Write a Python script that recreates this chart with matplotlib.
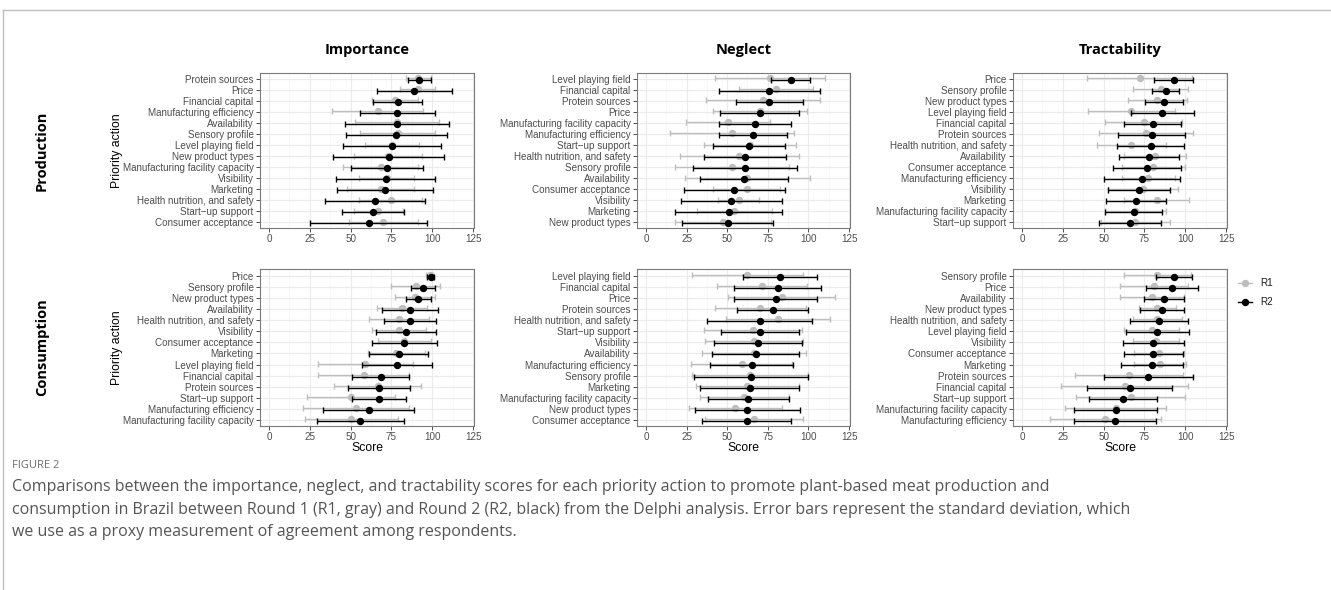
import matplotlib
matplotlib.use("Agg")
import matplotlib.pyplot as plt

# --- Data: mean score and standard deviation per priority action (listed top to bottom) ---

# Importance / Production
imp_prod_labels = ["Protein sources", "Price", "Financial capital", "Manufacturing efficiency",
                   "Availability", "Sensory profile", "Level playing field", "New product types",
                   "Manufacturing facility capacity", "Visibility", "Marketing",
                   "Health nutrition, and safety", "Start\u2212up support", "Consumer acceptance"]
imp_prod_r1_mean = [91.5, 91, 77, 66.5, 78.5, 79, 75.5, 73, 68.5, 72, 68.5, 74.5, 67, 70]
imp_prod_r1_sd = [7.5, 11, 14, 28, 25.5, 23, 16.5, 21, 23, 17, 20.5, 19.5, 15, 21]
imp_prod_r2_mean = [92, 89, 79, 78.5, 78.5, 78, 75.5, 73.5, 72.5, 71.5, 71, 65, 64, 61]
imp_prod_r2_sd = [7, 23, 15, 23, 32, 31, 30, 34, 22, 30.5, 29.5, 30.5, 19, 36]

# Neglect / Production
neg_prod_labels = ["Level playing field", "Financial capital", "Protein sources", "Price",
                   "Manufacturing facility capacity", "Manufacturing efficiency",
                   "Start\u2212up support", "Health nutrition, and safety", "Sensory profile",
                   "Availability", "Consumer acceptance", "Visibility", "Marketing",
                   "New product types"]
neg_prod_r1_mean = [76.5, 80, 72, 70, 50.5, 53, 64, 57.5, 53, 62.5, 62, 57, 54.5, 47.5]
neg_prod_r1_sd = [34, 23, 35, 29, 26, 38, 28.5, 36.5, 35, 38.5, 20.5, 12.5, 23, 29.5]
neg_prod_r2_mean = [89, 76, 76, 70, 67, 66, 63.5, 61, 61, 60.5, 54.5, 52.5, 51, 50.5]
neg_prod_r2_sd = [12, 31, 20.5, 24.5, 22, 21, 22, 25.5, 32, 27, 31, 31, 33, 28]

# Tractability / Production
tra_prod_labels = ["Price", "Sensory profile", "New product types", "Level playing field",
                   "Financial capital", "Protein sources", "Health nutrition, and safety",
                   "Availability", "Consumer acceptance", "Manufacturing efficiency",
                   "Visibility", "Marketing", "Manufacturing facility capacity",
                   "Start\u2212up support"]
tra_prod_r1_mean = [72, 85, 83, 67, 74.5, 76, 67, 81.5, 80.5, 77.5, 74, 82.5, 69.5, 69.5]
tra_prod_r1_sd = [32, 17, 18, 26.5, 23.5, 29, 21, 19, 19.5, 16, 21.5, 20, 18.5, 21]
tra_prod_r2_mean = [93, 88, 87, 86, 80, 79.5, 79, 78, 76.5, 73.5, 71.5, 70, 68.5, 66]
tra_prod_r2_sd = [12, 8.5, 11.5, 19.5, 17.5, 20.5, 20.5, 18.5, 21, 23.5, 19, 18.5, 17.5, 19]

# Importance / Consumption
imp_cons_labels = ["Price", "Sensory profile", "New product types", "Availability",
                   "Health nutrition, and safety", "Visibility", "Consumer acceptance",
                   "Marketing", "Level playing field", "Financial capital", "Protein sources",
                   "Start\u2212up support", "Manufacturing efficiency",
                   "Manufacturing facility capacity"]
imp_cons_r1_mean = [98.5, 90, 89.5, 81.5, 79.5, 79.5, 83, 78, 59, 58, 66.5, 50, 53.5, 50.5]
imp_cons_r1_sd = [2, 15, 12.5, 15.5, 18.5, 16.5, 16, 17.5, 29, 28, 26.5, 27, 32.5, 28.5]
imp_cons_r2_mean = [99, 94.5, 91.5, 86.5, 86.5, 84, 83, 79.5, 78.5, 68.5, 67.5, 67.5, 61, 56]
imp_cons_r2_sd = [2, 7.5, 7.5, 17, 16, 18.5, 20, 18, 21.5, 17.5, 19, 16.5, 28, 26.5]

# Neglect / Consumption
neg_cons_labels = ["Level playing field", "Financial capital", "Price", "Protein sources",
                   "Health nutrition, and safety", "Start\u2212up support", "Visibility",
                   "Availability", "Manufacturing efficiency", "Sensory profile", "Marketing",
                   "Manufacturing facility capacity", "New product types",
                   "Consumer acceptance"]
neg_cons_r1_mean = [62.5, 71.5, 83.5, 70.5, 81, 66, 66.5, 66.5, 59, 64, 62.5, 60.5, 55, 66.5]
neg_cons_r1_sd = [34, 27.5, 33, 28, 32, 30, 30, 32, 31, 35.5, 31.5, 27.5, 28.5, 30]
neg_cons_r2_mean = [82.5, 81, 80, 78, 70, 70, 69, 67.5, 65, 64.5, 64, 63, 62.5, 62]
neg_cons_r2_sd = [23, 26.5, 25.5, 22, 32.5, 24, 27, 27, 25.5, 35, 30.5, 25, 32.5, 27.5]

# Tractability / Consumption
tra_cons_labels = ["Sensory profile", "Price", "Availability", "New product types",
                   "Health nutrition, and safety", "Level playing field", "Visibility",
                   "Consumer acceptance", "Marketing", "Protein sources", "Financial capital",
                   "Start\u2212up support", "Manufacturing facility capacity",
                   "Manufacturing efficiency"]
tra_cons_r1_mean = [83, 81, 79.5, 83, 83, 79.5, 82, 84, 84.5, 65.5, 63, 66.5, 57.5, 51]
tra_cons_r1_sd = [20.5, 21, 19.5, 11.5, 15, 17, 14, 15.5, 16, 33, 39, 33.5, 31, 34]
tra_cons_r2_mean = [93, 92, 87, 85.5, 84, 83, 80.5, 80.5, 79.5, 77.5, 66, 62, 57.5, 57]
tra_cons_r2_sd = [11, 16, 12.5, 13.5, 18, 19.5, 18.5, 18, 19, 27.5, 26, 21, 25.5, 25]

score_ticks = [0, 25, 50, 75, 100, 125]

# --- Layout (pixel boxes of the reference) ---
W, H = 1331, 590
COLS = [(260, 474), (637, 850), (1013, 1227)]
ROWS = [(72.7, 228), (269, 425.7)]
TICK_FS = 7.1
LAB_FS = 8.8
R1_COLOR = "#BEBEBE"
R2_COLOR = "#000000"


def px_rect(x0, y0, x1, y1):
    return [x0 / W, 1 - y1 / H, (x1 - x0) / W, (y1 - y0) / H]


def draw_panel(ax, labels, r1m, r1s, r2m, r2s):
    n = len(labels)
    ypos = list(range(1, n + 1))
    # grid like ggplot theme_bw
    for v in [12.5, 37.5, 62.5, 87.5, 112.5]:
        ax.axvline(v, color="#F4F4F4", lw=0.45, zorder=0)
    for v in score_ticks:
        ax.axvline(v, color="#EBEBEB", lw=0.8, zorder=0)
    for y in ypos:
        ax.axhline(y, color="#EBEBEB", lw=0.8, zorder=0)

    ax.errorbar(r1m, [y - 0.08 for y in ypos], xerr=r1s, fmt="o", color=R1_COLOR,
                ecolor=R1_COLOR, elinewidth=1.0, capsize=2.2, capthick=1.0,
                markersize=4.3, zorder=2)
    ax.errorbar(r2m, [y + 0.08 for y in ypos], xerr=r2s, fmt="o", color=R2_COLOR,
                ecolor=R2_COLOR, elinewidth=1.0, capsize=2.2, capthick=1.0,
                markersize=4.3, zorder=3)

    ax.set_xlim(-5.5, 125.6)
    ax.set_ylim(n + 0.5, 0.4)
    ax.set_xticks(score_ticks)
    ax.set_xticklabels([str(t) for t in score_ticks])
    ax.set_yticks(ypos)
    ax.set_yticklabels(labels)
    ax.tick_params(axis="both", labelsize=TICK_FS, labelcolor="#4D4D4D", color="#333333",
                   length=2.6, width=0.6, pad=2)
    for sp in ax.spines.values():
        sp.set_color("#7A7A7A")
        sp.set_linewidth(0.8)


plt.rcParams["font.family"] = ["Liberation Sans", "DejaVu Sans"]
fig = plt.figure(figsize=(W / 100, H / 100), dpi=100)

panels = [
    [(imp_prod_labels, imp_prod_r1_mean, imp_prod_r1_sd, imp_prod_r2_mean, imp_prod_r2_sd),
     (neg_prod_labels, neg_prod_r1_mean, neg_prod_r1_sd, neg_prod_r2_mean, neg_prod_r2_sd),
     (tra_prod_labels, tra_prod_r1_mean, tra_prod_r1_sd, tra_prod_r2_mean, tra_prod_r2_sd)],
    [(imp_cons_labels, imp_cons_r1_mean, imp_cons_r1_sd, imp_cons_r2_mean, imp_cons_r2_sd),
     (neg_cons_labels, neg_cons_r1_mean, neg_cons_r1_sd, neg_cons_r2_mean, neg_cons_r2_sd),
     (tra_cons_labels, tra_cons_r1_mean, tra_cons_r1_sd, tra_cons_r2_mean, tra_cons_r2_sd)],
]

for r, (y0, y1) in enumerate(ROWS):
    for c, (x0, x1) in enumerate(COLS):
        ax = fig.add_axes(px_rect(x0, y0, x1, y1))
        draw_panel(ax, *panels[r][c])
        if r == 1:
            fig.text((x0 + x1) / 2 / W, 1 - 447.7 / H, "Score", ha="center", va="center",
                     fontsize=LAB_FS, color="#000000")

# column titles
for (x0, x1), title in zip(COLS, ["Importance", "Neglect", "Tractability"]):
    fig.text((x0 + x1) / 2 / W, 1 - 50 / H, title, ha="center", va="center",
             fontsize=10.5, fontweight="bold", family="Open Sans")

# row labels and y axis titles
for (y0, y1), name in zip(ROWS, ["Production", "Consumption"]):
    yc = 1 - (y0 + y1) / 2 / H
    fig.text(42 / W, yc, name, rotation=90, ha="center", va="center",
             fontsize=10.5, fontweight="bold", family="Open Sans")
    fig.text(117 / W, yc, "Priority action", rotation=90, ha="center", va="center",
             fontsize=LAB_FS, color="#000000")

# legend
for yy, name, col in [(283, "R1", R1_COLOR), (302, "R2", R2_COLOR)]:
    fig.lines.append(plt.Line2D([1238 / W, 1252 / W], [1 - yy / H, 1 - yy / H],
                                color=col, lw=1.0, transform=fig.transFigure))
    fig.lines.append(plt.Line2D([1245 / W], [1 - yy / H], marker="o", markersize=4.3,
                                color=col, lw=0, transform=fig.transFigure))
    fig.text(1260 / W, 1 - yy / H, name, ha="left", va="center", fontsize=TICK_FS,
             color="#1A1A1A")

# figure frame (article style)
fig.lines.append(plt.Line2D([3 / W, 1], [1 - 10 / H, 1 - 10 / H], color="#BDBDBD",
                            lw=1.0, transform=fig.transFigure))
fig.lines.append(plt.Line2D([3 / W, 3 / W], [1 - 10 / H, 0], color="#BDBDBD",
                            lw=1.0, transform=fig.transFigure))

# caption
fig.text(12 / W, 1 - 465 / H, "FIGURE 2", ha="left", va="center", fontsize=8,
         color="#6E6E6E", family="Open Sans")
caption = [
    "Comparisons between the importance, neglect, and tractability scores for each priority action to promote plant-based meat production and",
    "consumption in Brazil between Round 1 (R1, gray) and Round 2 (R2, black) from the Delphi analysis. Error bars represent the standard deviation, which",
    "we use as a proxy measurement of agreement among respondents.",
]
for yy, line in zip([487, 510, 532], caption):
    fig.text(12 / W, 1 - yy / H, line, ha="left", va="center", fontsize=11.5,
             color="#555555", family="Open Sans")

fig.savefig("out.png", dpi=100)
